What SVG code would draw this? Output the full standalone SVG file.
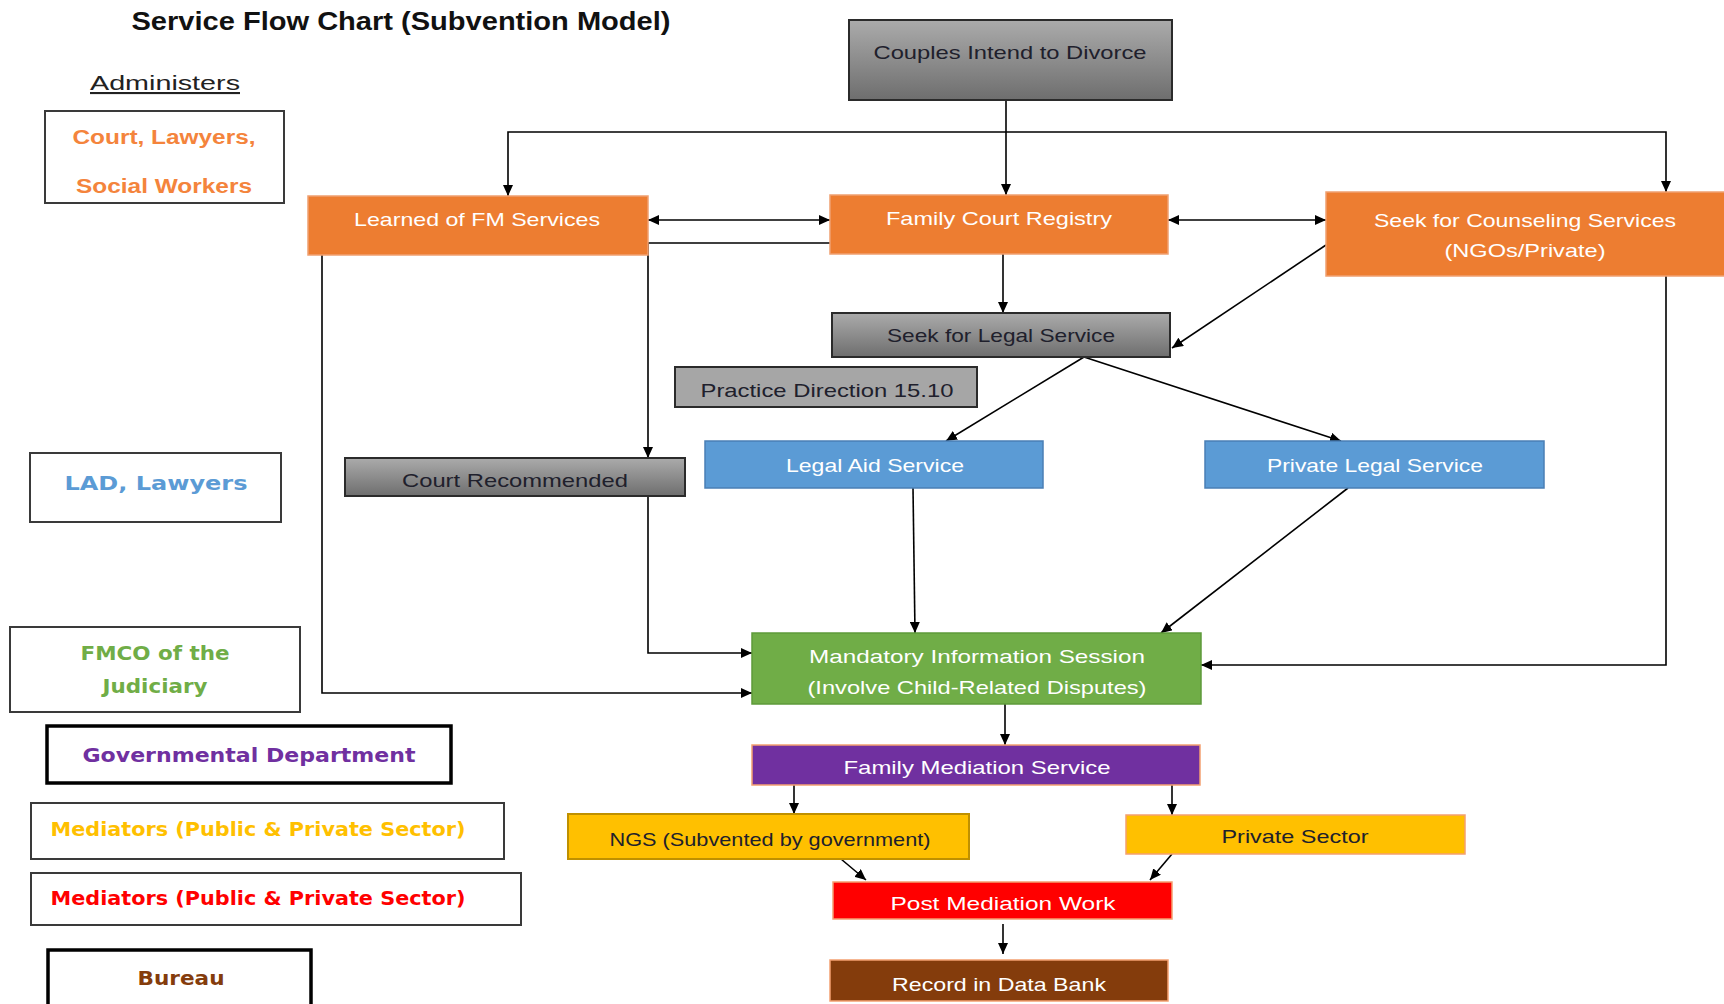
<svg xmlns="http://www.w3.org/2000/svg" width="1724" height="1004" viewBox="0 0 1724 1004">
<style>
.t{font-family:"Liberation Sans",Arial,sans-serif;font-size:19px;text-anchor:middle;fill:#ffffff}
.dk{fill:#20202c}
.lg{font-family:"DejaVu Sans",Verdana,sans-serif;font-weight:bold;font-size:20px;text-anchor:middle}
.lb{fill:#ffffff;stroke:#3a3a3a;stroke-width:2}
.lbt{fill:#ffffff;stroke:#000000;stroke-width:3.5}
.or{fill:#ED7D31;stroke:#F0A070;stroke-width:1.5}
.gr{fill:url(#gg);stroke:#2b2b2b;stroke-width:2}
.bl{fill:#5B9BD5;stroke:#4A7FB5;stroke-width:1.5}
.c{fill:none;stroke:#000000;stroke-width:1.6}
</style>
<defs>
<linearGradient id="gg" x1="0" y1="0" x2="0" y2="1">
<stop offset="0" stop-color="#ABABAB"/>
<stop offset="1" stop-color="#6E6E6E"/>
</linearGradient>
<marker id="ar" markerUnits="userSpaceOnUse" markerWidth="12" markerHeight="10" refX="11" refY="5" orient="auto-start-reverse">
<path d="M0,0 L11,5 L0,10 z" fill="#000000"/>
</marker>
</defs>
<rect width="1724" height="1004" fill="#ffffff"/>

<text x="401" y="30" font-family="'Liberation Sans',Arial,sans-serif" font-weight="bold" font-size="25" text-anchor="middle" fill="#111" textLength="539" lengthAdjust="spacingAndGlyphs">Service Flow Chart (Subvention Model)</text>
<text x="165" y="90" font-family="'Liberation Sans',Arial,sans-serif" font-size="21" text-anchor="middle" fill="#222" text-decoration="underline" textLength="150" lengthAdjust="spacingAndGlyphs">Administers</text>

<g id="legend-court">
<rect class="lb" x="45" y="111" width="239" height="92"/>
<text x="164" y="144" font-family="'Liberation Sans',Arial,sans-serif" font-weight="bold" font-size="20" text-anchor="middle" fill="#F4843C" textLength="183" lengthAdjust="spacingAndGlyphs">Court, Lawyers,</text>
<text x="164" y="193" font-family="'Liberation Sans',Arial,sans-serif" font-weight="bold" font-size="20" text-anchor="middle" fill="#F4843C" textLength="176" lengthAdjust="spacingAndGlyphs">Social Workers</text>
</g>
<g id="legend-lad">
<rect class="lb" x="30" y="453" width="251" height="69"/>
<text class="lg" x="156" y="490" font-size="22" fill="#5B9BD5" textLength="183" lengthAdjust="spacingAndGlyphs">LAD, Lawyers</text>
</g>
<g id="legend-fmco">
<rect class="lb" x="10" y="627" width="290" height="85"/>
<text class="lg" x="155" y="660" font-size="19" fill="#70AD47" textLength="149" lengthAdjust="spacingAndGlyphs">FMCO of the</text>
<text class="lg" x="155" y="693" font-size="19" fill="#70AD47" textLength="105" lengthAdjust="spacingAndGlyphs">Judiciary</text>
</g>
<g id="legend-gov">
<rect class="lbt" x="47" y="726" width="404" height="57"/>
<text class="lg" x="249" y="762" fill="#7030A0" textLength="333" lengthAdjust="spacingAndGlyphs">Governmental Department</text>
</g>
<g id="legend-med-yellow">
<rect class="lb" x="31" y="803" width="473" height="56"/>
<text class="lg" x="258" y="836" fill="#FFC000" textLength="415" lengthAdjust="spacingAndGlyphs">Mediators (Public &amp; Private Sector)</text>
</g>
<g id="legend-med-red">
<rect class="lb" x="31" y="873" width="490" height="52"/>
<text class="lg" x="258" y="905" fill="#FF0000" textLength="415" lengthAdjust="spacingAndGlyphs">Mediators (Public &amp; Private Sector)</text>
</g>
<g id="legend-bureau">
<rect class="lbt" x="48" y="950" width="263" height="70"/>
<text class="lg" x="181" y="985" fill="#843C0C" textLength="87" lengthAdjust="spacingAndGlyphs">Bureau</text>
</g>

<g id="connectors">
<path class="c" d="M1006,100 V195" marker-end="url(#ar)"/>
<path class="c" d="M1006,132 H508 V196" marker-end="url(#ar)"/>
<path class="c" d="M1006,132 H1666 V192" marker-end="url(#ar)"/>
<path class="c" d="M648,220 H830" marker-start="url(#ar)" marker-end="url(#ar)"/>
<path class="c" d="M830,243 H648 V458" marker-end="url(#ar)"/>
<path class="c" d="M1168,220 H1326" marker-start="url(#ar)" marker-end="url(#ar)"/>
<path class="c" d="M1003,254 V313" marker-end="url(#ar)"/>
<path class="c" d="M1326,245 L1172,348" marker-end="url(#ar)"/>
<path class="c" d="M1084,357 L946,441" marker-end="url(#ar)"/>
<path class="c" d="M1084,357 L1341,441" marker-end="url(#ar)"/>
<path class="c" d="M913,488 L915,633" marker-end="url(#ar)"/>
<path class="c" d="M1348,488 L1161,633" marker-end="url(#ar)"/>
<path class="c" d="M1666,276 V665 H1201" marker-end="url(#ar)"/>
<path class="c" d="M648,496 V653 H752" marker-end="url(#ar)"/>
<path class="c" d="M322,255 V693 H752" marker-end="url(#ar)"/>
<path class="c" d="M1005,704 V745" marker-end="url(#ar)"/>
<path class="c" d="M794,785 V814" marker-end="url(#ar)"/>
<path class="c" d="M1172,785 V815" marker-end="url(#ar)"/>
<path class="c" d="M841,859 L866,880" marker-end="url(#ar)"/>
<path class="c" d="M1172,854 L1150,880" marker-end="url(#ar)"/>
<path class="c" d="M1003,924 V954" marker-end="url(#ar)"/>
</g>

<g id="couples">
<rect class="gr" x="849" y="20" width="323" height="80"/>
<text class="t dk" x="1010" y="59" textLength="273" lengthAdjust="spacingAndGlyphs">Couples Intend to Divorce</text>
</g>
<g id="learned">
<rect class="or" x="308" y="196" width="340" height="59"/>
<text class="t" x="477" y="226" textLength="246" lengthAdjust="spacingAndGlyphs">Learned of FM Services</text>
</g>
<g id="registry">
<rect class="or" x="830" y="195" width="338" height="59"/>
<text class="t" x="999" y="225" textLength="226" lengthAdjust="spacingAndGlyphs">Family Court Registry</text>
</g>
<g id="counseling">
<rect class="or" x="1326" y="192" width="400" height="84"/>
<text class="t" x="1525" y="227" textLength="302" lengthAdjust="spacingAndGlyphs">Seek for Counseling Services</text>
<text class="t" x="1525" y="257" textLength="161" lengthAdjust="spacingAndGlyphs">(NGOs/Private)</text>
</g>
<g id="seek-legal">
<rect class="gr" x="832" y="313" width="338" height="44"/>
<text class="t dk" x="1001" y="342" textLength="228" lengthAdjust="spacingAndGlyphs">Seek for Legal Service</text>
</g>
<g id="practice">
<rect x="675" y="367" width="302" height="40" fill="#A6A6A6" stroke="#2b2b2b" stroke-width="2"/>
<text class="t dk" x="827" y="397" textLength="253" lengthAdjust="spacingAndGlyphs">Practice Direction 15.10</text>
</g>
<g id="court-rec">
<rect class="gr" x="345" y="458" width="340" height="38"/>
<text class="t dk" x="515" y="487" textLength="226" lengthAdjust="spacingAndGlyphs">Court Recommended</text>
</g>
<g id="legal-aid">
<rect class="bl" x="705" y="441" width="338" height="47"/>
<text class="t" x="875" y="472" textLength="178" lengthAdjust="spacingAndGlyphs">Legal Aid Service</text>
</g>
<g id="private-legal">
<rect class="bl" x="1205" y="441" width="339" height="47"/>
<text class="t" x="1375" y="472" textLength="216" lengthAdjust="spacingAndGlyphs">Private Legal Service</text>
</g>
<g id="mandatory">
<rect x="752" y="633" width="449" height="71" fill="#70AD47" stroke="#5E9A3A" stroke-width="1.5"/>
<text class="t" x="977" y="663" textLength="336" lengthAdjust="spacingAndGlyphs">Mandatory Information Session</text>
<text class="t" x="977" y="694" textLength="339" lengthAdjust="spacingAndGlyphs">(Involve Child-Related Disputes)</text>
</g>
<g id="mediation">
<rect x="752" y="745" width="448" height="40" fill="#7030A0" stroke="#F4A070" stroke-width="1.5"/>
<text class="t" x="977" y="774" textLength="267" lengthAdjust="spacingAndGlyphs">Family Mediation Service</text>
</g>
<g id="ngs">
<rect x="568" y="814" width="401" height="45" fill="#FFC000" stroke="#BF9000" stroke-width="2"/>
<text class="t dk" x="770" y="846" textLength="321" lengthAdjust="spacingAndGlyphs">NGS (Subvented by government)</text>
</g>
<g id="private-sector">
<rect x="1126" y="815" width="339" height="39" fill="#FFC000" stroke="#F4A070" stroke-width="1.5"/>
<text class="t dk" x="1295" y="843" textLength="147" lengthAdjust="spacingAndGlyphs">Private Sector</text>
</g>
<g id="post-mediation">
<rect x="833" y="882" width="339" height="37" fill="#FF0000" stroke="#F4A070" stroke-width="1.5"/>
<text class="t" x="1003" y="910" textLength="225" lengthAdjust="spacingAndGlyphs">Post Mediation Work</text>
</g>
<g id="record">
<rect x="830" y="960" width="338" height="41" fill="#843C0C" stroke="#F4A070" stroke-width="1.5"/>
<text class="t" x="999" y="991" textLength="214" lengthAdjust="spacingAndGlyphs">Record in Data Bank</text>
</g>
</svg>
